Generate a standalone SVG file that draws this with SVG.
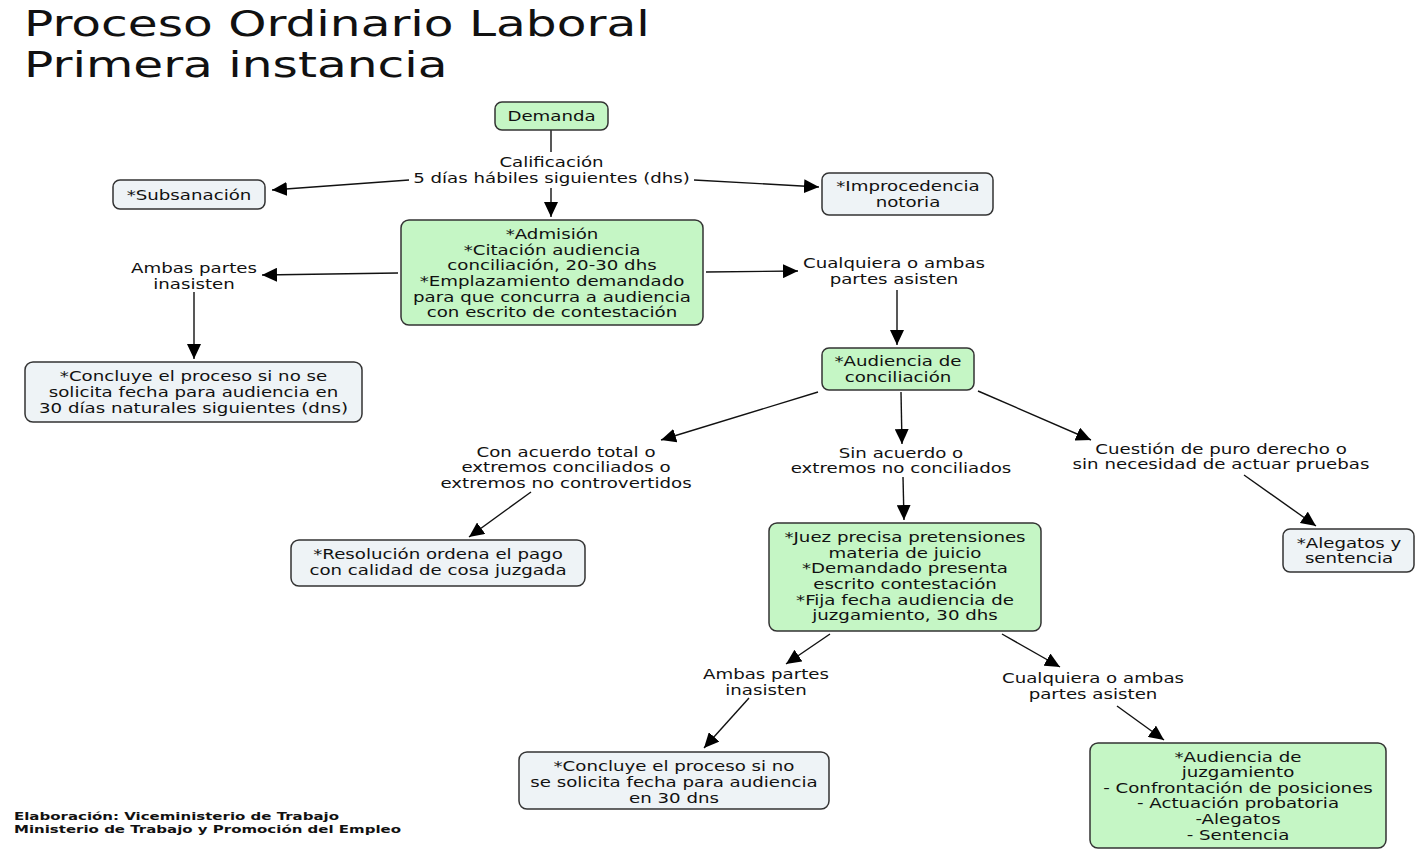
<svg xmlns="http://www.w3.org/2000/svg" width="1417" height="850" viewBox="0 0 1417 850">
<style>
text{font-family:"DejaVu Sans","Verdana",sans-serif;fill:#111;}
.t{font-size:14px;text-anchor:middle;}
.title{font-size:36px;}
.foot{font-size:10px;font-weight:bold;}
.g{fill:#c5f6c5;stroke:#333;stroke-width:1.5;}
.b{fill:#eef3f6;stroke:#333;stroke-width:1.5;}
.c line{stroke:#111;stroke-width:1.4;}
</style>
<defs>
<marker id="ah" markerUnits="userSpaceOnUse" markerWidth="16" markerHeight="14" refX="15" refY="7" orient="auto">
<path d="M0,0 L15,7 L0,14 z" fill="#000"/>
</marker>
</defs>
<rect width="1417" height="850" fill="#fff"/>
<g transform="translate(24,0) scale(1.35,1)">
<text class="title" x="0" y="36">Proceso Ordinario Laboral</text>
<text class="title" x="0" y="77">Primera instancia</text>
</g>

<g class="c" id="connectors">
<line x1="551" y1="130" x2="551" y2="152"/>
<line x1="409" y1="180" x2="272" y2="190" marker-end="url(#ah)"/>
<line x1="694" y1="180" x2="819" y2="187" marker-end="url(#ah)"/>
<line x1="551" y1="188" x2="551" y2="217" marker-end="url(#ah)"/>
<line x1="398" y1="273" x2="262" y2="275" marker-end="url(#ah)"/>
<line x1="706" y1="272" x2="798" y2="271" marker-end="url(#ah)"/>
<line x1="194" y1="292" x2="194" y2="359" marker-end="url(#ah)"/>
<line x1="897" y1="290" x2="897" y2="345" marker-end="url(#ah)"/>
<line x1="818" y1="392" x2="661" y2="440" marker-end="url(#ah)"/>
<line x1="901" y1="392" x2="902" y2="444" marker-end="url(#ah)"/>
<line x1="978" y1="391" x2="1091" y2="440" marker-end="url(#ah)"/>
<line x1="531" y1="492" x2="469" y2="537" marker-end="url(#ah)"/>
<line x1="903" y1="477" x2="904" y2="520" marker-end="url(#ah)"/>
<line x1="1244" y1="475" x2="1316" y2="526" marker-end="url(#ah)"/>
<line x1="830" y1="634" x2="786" y2="664" marker-end="url(#ah)"/>
<line x1="1002" y1="634" x2="1060" y2="667" marker-end="url(#ah)"/>
<line x1="749" y1="698" x2="704" y2="748" marker-end="url(#ah)"/>
<line x1="1117" y1="706" x2="1164" y2="740" marker-end="url(#ah)"/>
</g>

<g id="demanda"><rect class="g" x="495" y="102" width="113" height="28" rx="7"/>
<g transform="translate(551.5,0) scale(1.3,1)"><text class="t" x="0" y="121">Demanda</text></g></g>
<g id="calificacion"><g transform="translate(551.5,0) scale(1.3,1)"><text class="t" x="0" y="167">Calificación</text><text class="t" x="0" y="183">5 días hábiles siguientes (dhs)</text></g></g>
<g id="subsanacion"><rect class="b" x="113" y="180" width="152" height="29" rx="7"/>
<g transform="translate(189,0) scale(1.3,1)"><text class="t" x="0" y="200">*Subsanación</text></g></g>
<g id="improcedencia"><rect class="b" x="822" y="173" width="171" height="42" rx="7"/>
<g transform="translate(908,0) scale(1.3,1)"><text class="t" x="0" y="191">*Improcedencia</text><text class="t" x="0" y="207">notoria</text></g></g>
<g id="admision"><rect class="g" x="401" y="220" width="302" height="105" rx="8"/>
<g transform="translate(552,0) scale(1.3,1)">
<text class="t" x="0" y="239">*Admisión</text>
<text class="t" x="0" y="255">*Citación audiencia</text>
<text class="t" x="0" y="270">conciliación, 20-30 dhs</text>
<text class="t" x="0" y="286">*Emplazamiento demandado</text>
<text class="t" x="0" y="302">para que concurra a audiencia</text>
<text class="t" x="0" y="317">con escrito de contestación</text></g></g>
<g id="ambas1"><g transform="translate(194,0) scale(1.3,1)"><text class="t" x="0" y="273">Ambas partes</text><text class="t" x="0" y="289">inasisten</text></g></g>
<g id="cualquiera1"><g transform="translate(894,0) scale(1.3,1)"><text class="t" x="0" y="268">Cualquiera o ambas</text><text class="t" x="0" y="284">partes asisten</text></g></g>
<g id="concluye1"><rect class="b" x="25" y="362" width="337" height="60" rx="8"/>
<g transform="translate(193.5,0) scale(1.3,1)">
<text class="t" x="0" y="381">*Concluye el proceso si no se</text>
<text class="t" x="0" y="397">solicita fecha para audiencia en</text>
<text class="t" x="0" y="413">30 días naturales siguientes (dns)</text></g></g>
<g id="audconc"><rect class="g" x="822" y="348" width="152" height="42" rx="7"/>
<g transform="translate(898,0) scale(1.3,1)"><text class="t" x="0" y="366">*Audiencia de</text><text class="t" x="0" y="382">conciliación</text></g></g>
<g id="conacuerdo"><g transform="translate(566,0) scale(1.3,1)"><text class="t" x="0" y="457">Con acuerdo total o</text><text class="t" x="0" y="472">extremos conciliados o</text><text class="t" x="0" y="488">extremos no controvertidos</text></g></g>
<g id="sinacuerdo"><g transform="translate(901,0) scale(1.3,1)"><text class="t" x="0" y="458">Sin acuerdo o</text><text class="t" x="0" y="473">extremos no conciliados</text></g></g>
<g id="cuestion"><g transform="translate(1221,0) scale(1.3,1)"><text class="t" x="0" y="454">Cuestión de puro derecho o</text><text class="t" x="0" y="469">sin necesidad de actuar pruebas</text></g></g>
<g id="resolucion"><rect class="b" x="291" y="540" width="294" height="46" rx="8"/>
<g transform="translate(438,0) scale(1.3,1)"><text class="t" x="0" y="559">*Resolución ordena el pago</text><text class="t" x="0" y="575">con calidad de cosa juzgada</text></g></g>
<g id="juez"><rect class="g" x="769" y="523" width="272" height="108" rx="8"/>
<g transform="translate(905,0) scale(1.3,1)">
<text class="t" x="0" y="542">*Juez precisa pretensiones</text>
<text class="t" x="0" y="558">materia de juicio</text>
<text class="t" x="0" y="573">*Demandado presenta</text>
<text class="t" x="0" y="589">escrito contestación</text>
<text class="t" x="0" y="605">*Fija fecha audiencia de</text>
<text class="t" x="0" y="620">juzgamiento, 30 dhs</text></g></g>
<g id="alegatos"><rect class="b" x="1283" y="529" width="131" height="43" rx="7"/>
<g transform="translate(1349,0) scale(1.3,1)"><text class="t" x="0" y="548">*Alegatos y</text><text class="t" x="0" y="563">sentencia</text></g></g>
<g id="ambas2"><g transform="translate(766,0) scale(1.3,1)"><text class="t" x="0" y="679">Ambas partes</text><text class="t" x="0" y="695">inasisten</text></g></g>
<g id="cualquiera2"><g transform="translate(1093,0) scale(1.3,1)"><text class="t" x="0" y="683">Cualquiera o ambas</text><text class="t" x="0" y="699">partes asisten</text></g></g>
<g id="concluye2"><rect class="b" x="519" y="752" width="310" height="57" rx="8"/>
<g transform="translate(674,0) scale(1.3,1)">
<text class="t" x="0" y="771">*Concluye el proceso si no</text>
<text class="t" x="0" y="787">se solicita fecha para audiencia</text>
<text class="t" x="0" y="803">en 30 dns</text></g></g>
<g id="audjuzg"><rect class="g" x="1090" y="743" width="296" height="105" rx="8"/>
<g transform="translate(1238,0) scale(1.3,1)">
<text class="t" x="0" y="762">*Audiencia de</text>
<text class="t" x="0" y="777">juzgamiento</text>
<text class="t" x="0" y="793">- Confrontación de posiciones</text>
<text class="t" x="0" y="808">- Actuación probatoria</text>
<text class="t" x="0" y="824">-Alegatos</text>
<text class="t" x="0" y="840">- Sentencia</text></g></g>
<g transform="translate(14,0) scale(1.5,1)">
<text class="foot" x="0" y="820">Elaboración: Viceministerio de Trabajo</text>
<text class="foot" x="0" y="833">Ministerio de Trabajo y Promoción del Empleo</text>
</g>
</svg>
